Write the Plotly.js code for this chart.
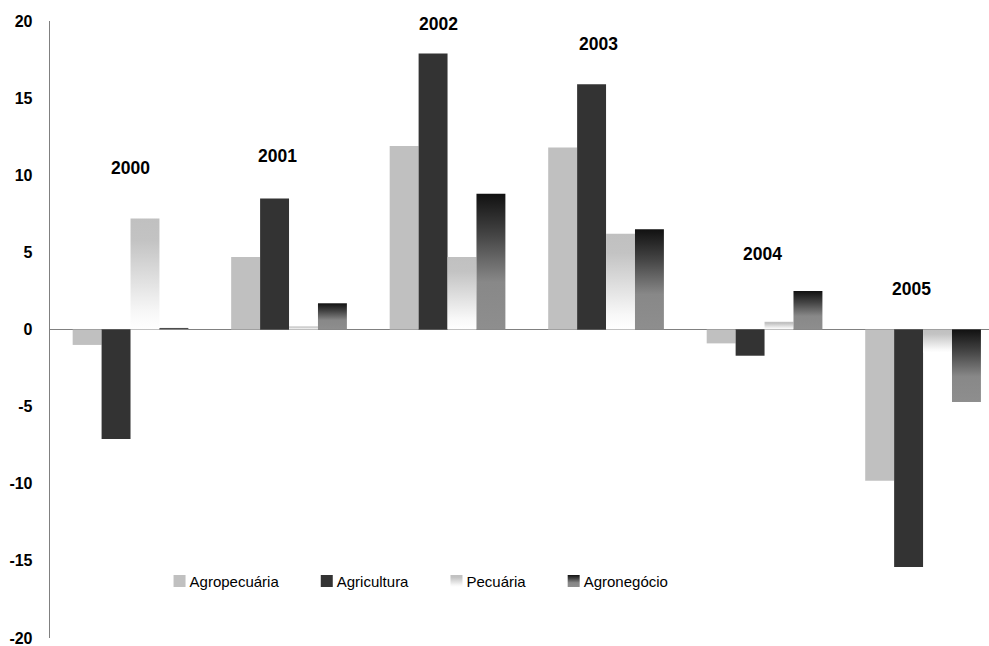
<!DOCTYPE html>
<html>
<head>
<meta charset="utf-8">
<script src="https://cdn.plot.ly/plotly-3.0.1.min.js"></script>
<style>
  html, body { margin: 0; padding: 0; background: #fff; }
  #chart { width: 989px; height: 646px; }
</style>
</head>
<body>
<div id="chart"></div>
<script>
// Annual growth (%) by sector, 2000-2005
const years = ['2000', '2001', '2002', '2003', '2004', '2005'];
const agropecuaria = [-1.0, 4.7, 11.9, 11.8, -0.9, -9.8];
const agricultura  = [-7.1, 8.5, 17.9, 15.9, -1.7, -15.4];
const pecuaria     = [7.2, 0.2, 4.7, 6.2, 0.5, -1.5];
const agronegocio  = [0.1, 1.7, 8.8, 6.5, 2.5, -4.7];

const seriesNames = ['Agropecuária', 'Agricultura', 'Pecuária', 'Agronegócio'];

// Y axis ticks, written with a plain hyphen for negatives
const yTickVals = [-20, -15, -10, -5, 0, 5, 10, 15, 20];
const yTickText = ['-20', '-15', '-10', '-5', '0', '5', '10', '15', '20'];

// Placement of the year captions over each group (axis units)
const yearLabelX = [0.0, 0.93, 1.94, 2.95, 3.99, 4.93];
const yearLabelY = [10.5, 11.25, 19.8, 18.5, 4.9, 2.6];

const FONT = 'Arial, "Liberation Sans", sans-serif';
const xIdx = years.map((_, i) => i);

function bar(name, values, color) {
  return {
    type: 'bar', name: name, x: xIdx, y: values,
    marker: { color: color, line: { width: 0 } },
    hoverinfo: 'skip'
  };
}

const data = [
  bar(seriesNames[0], agropecuaria, '#c0c0c0'),
  bar(seriesNames[1], agricultura, '#333333'),
  bar(seriesNames[2], pecuaria, '#d8d8d8'),
  bar(seriesNames[3], agronegocio, '#555555')
];

const annotations = years.map((yr, i) => ({
  x: yearLabelX[i], y: yearLabelY[i], xref: 'x', yref: 'y',
  text: yr, showarrow: false,
  font: { family: FONT, size: 17.5, color: '#000', weight: 'bold' },
  xanchor: 'center', yanchor: 'middle'
}));

const layout = {
  width: 989, height: 646,
  margin: { l: 50, r: 0, t: 21, b: 8 },
  paper_bgcolor: '#fff', plot_bgcolor: '#fff',
  barmode: 'group', bargap: 0.27, bargroupgap: 0,
  showlegend: true,
  legend: {
    orientation: 'h', x: 0.106, xanchor: 'left', y: 0.092, yanchor: 'middle',
    font: { family: FONT, size: 15, color: '#000' },
    bgcolor: 'rgba(0,0,0,0)', itemclick: false, itemdoubleclick: false
  },
  xaxis: {
    range: [-0.508, 5.416], visible: false, fixedrange: true
  },
  yaxis: {
    range: [-20, 20], tickvals: yTickVals, ticktext: yTickText,
    ticks: '', showgrid: false,
    showline: true, linecolor: '#808080', linewidth: 1.3,
    zeroline: true, zerolinecolor: '#808080', zerolinewidth: 1.7,
    tickfont: { family: FONT, size: 16, color: '#000', weight: 'bold' },
    ticklabelstandoff: 13, ticklabeloverflow: 'allow', fixedrange: true
  },
  annotations: annotations,
  font: { family: FONT }
};

// Vertical shading for the Pecuária and Agronegócio bars
const gradients = {
  gradPecuaria: [[0, '#c0c0c0'], [0.2, '#c3c3c3'], [0.85, '#f8f8f8'], [1, '#ffffff']],
  gradAgronegocio: [[0, '#111111'], [0.3, '#444444'], [0.65, '#888888'], [1, '#8e8e8e']]
};

// Legend entries: swatch sits right next to its text, fixed gap between entries
const SWATCH_X = 30;
const TEXT_X = 40;
const ENTRY_GAP = 42;

function arrangeLegend(gd) {
  const scroll = gd.querySelector('.legend .scrollbox');
  if (scroll) scroll.removeAttribute('clip-path');
  const items = gd.querySelectorAll('.legend .traces');
  if (!items.length) return;
  const m = /translate\(\s*([-\d.]+)[ ,]+([-\d.]+)/.exec(items[0].getAttribute('transform') || '');
  let x = m ? parseFloat(m[1]) : 0;
  const y = m ? parseFloat(m[2]) : 0;
  items.forEach(item => {
    item.setAttribute('transform', 'translate(' + x + ',' + y + ')');
    item.querySelectorAll('.legendpoints path').forEach(p => p.setAttribute('transform', 'translate(' + SWATCH_X + ',0)'));
    const t = item.querySelector('text.legendtext');
    const w = t ? t.getComputedTextLength() : 0;
    x += TEXT_X + w + ENTRY_GAP - (SWATCH_X - 6);
  });
}

function shadeBars(gd) {
  const svg = gd.querySelector('svg.main-svg');
  let defs = svg.querySelector('defs');
  const NS = 'http://www.w3.org/2000/svg';
  if (!defs) { defs = document.createElementNS(NS, 'defs'); svg.insertBefore(defs, svg.firstChild); }
  Object.keys(gradients).forEach(id => {
    if (document.getElementById(id)) return;
    const g = document.createElementNS(NS, 'linearGradient');
    g.setAttribute('id', id);
    g.setAttribute('x1', '0'); g.setAttribute('y1', '0');
    g.setAttribute('x2', '0'); g.setAttribute('y2', '1');
    gradients[id].forEach(([off, col]) => {
      const s = document.createElementNS(NS, 'stop');
      s.setAttribute('offset', off);
      s.setAttribute('stop-color', col);
      g.appendChild(s);
    });
    defs.appendChild(g);
  });
  const fills = { 2: 'url(#gradPecuaria)', 3: 'url(#gradAgronegocio)' };
  const barTraces = gd.querySelectorAll('.barlayer .trace');
  const legTraces = gd.querySelectorAll('.legend .traces');
  Object.keys(fills).forEach(k => {
    if (barTraces[k]) barTraces[k].querySelectorAll('path').forEach(p => { p.style.fill = fills[k]; });
    if (legTraces[k]) legTraces[k].querySelectorAll('.legendpoints path').forEach(p => { p.style.fill = fills[k]; });
  });
  arrangeLegend(gd);
}

const gd = document.getElementById('chart');
Plotly.newPlot(gd, data, layout, { staticPlot: true, displayModeBar: false }).then(() => {
  shadeBars(gd);
  gd.on('plotly_afterplot', () => shadeBars(gd));
});
</script>
</body>
</html>
